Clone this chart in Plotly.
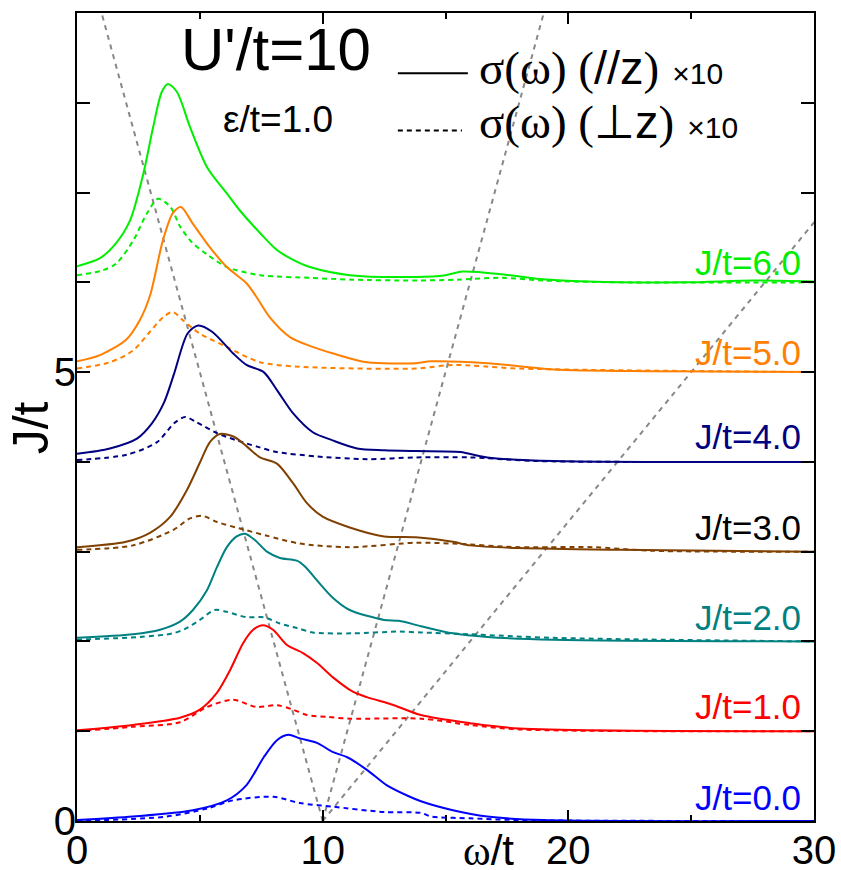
import plotly.graph_objects as go

# ---- data (sigma x10, drawn offset by J/t) ----
J_values = [6.0, 5.0, 4.0, 3.0, 2.0, 1.0, 0.0]
colors = ["#00ee00", "#ff8000", "#000080", "#804000", "#008080", "#ff0000", "#0000ff"]
label_colors = ["#00ee00", "#ff8000", "#000080", "#000000", "#008080", "#ff0000", "#0000ff"]
labels = ["J/t=6.0", "J/t=5.0", "J/t=4.0", "J/t=3.0", "J/t=2.0", "J/t=1.0", "J/t=0.0"]
label_y = [6.22, 5.22, 4.28, 3.27, 2.27, 1.27, 0.26]

w_j6_par = [0, 0.94, 1.6, 2.16, 2.7, 3.1, 3.45, 3.7, 4.07, 4.6, 5.3, 6.1, 6.63, 7.45, 8.14, 8.8, 9.48, 11.1, 13.8, 15.0, 15.7, 17.3, 18.7, 20.8, 24.8, 27.5, 30]
s_j6_par = [0.18, 0.27, 0.44, 0.69, 1.21, 1.73, 2.12, 2.21, 2.12, 1.73, 1.28, 0.99, 0.80, 0.55, 0.36, 0.25, 0.17, 0.08, 0.06, 0.08, 0.12, 0.09, 0.04, 0.01, 0.0, 0.02, 0.01]
w_j6_perp = [0, 1.0, 1.6, 2.3, 2.85, 3.3, 3.8, 4.2, 4.7, 5.3, 6.1, 7.45, 9.5, 11.2, 13.8, 15.5, 17.3, 19, 22, 30]
s_j6_perp = [0.08, 0.13, 0.21, 0.47, 0.77, 0.93, 0.84, 0.62, 0.44, 0.31, 0.17, 0.08, 0.05, 0.03, 0.02, 0.03, 0.05, 0.02, 0.0, 0.0]

w_j5_par = [0, 0.94, 2.0, 2.56, 2.97, 3.5, 3.9, 4.23, 4.7, 5.41, 6.1, 6.9, 7.3, 7.85, 8.67, 9.5, 10.4, 11.8, 13.8, 14.4, 16.7, 19.4, 23.4, 30]
s_j5_par = [0.12, 0.19, 0.36, 0.58, 0.85, 1.47, 1.77, 1.84, 1.66, 1.39, 1.17, 0.99, 0.84, 0.61, 0.39, 0.29, 0.21, 0.11, 0.10, 0.12, 0.10, 0.03, 0.01, 0.0]
w_j5_perp = [0, 1.34, 2.28, 2.97, 3.5, 3.9, 4.3, 5.0, 6.1, 7.45, 9.07, 13.8, 15.3, 18, 30]
s_j5_perp = [0.04, 0.11, 0.24, 0.45, 0.61, 0.67, 0.58, 0.43, 0.28, 0.11, 0.06, 0.04, 0.08, 0.04, 0.0]

w_j4_par = [0, 1.34, 2.44, 3.05, 3.54, 3.95, 4.5, 4.93, 5.5, 6.35, 6.9, 7.6, 8.14, 8.8, 9.6, 10.4, 11.4, 12.5, 13.8, 15.6, 16.7, 19.4, 30]
s_j4_par = [0.09, 0.15, 0.26, 0.43, 0.66, 0.98, 1.43, 1.52, 1.45, 1.21, 1.08, 1.0, 0.80, 0.54, 0.33, 0.24, 0.15, 0.13, 0.12, 0.11, 0.05, 0.01, 0.0]
w_j4_perp = [0, 2.03, 3.26, 3.95, 4.4, 4.88, 5.7, 6.5, 7.33, 8.14, 9.8, 11.8, 13.8, 16, 18.7, 30]
s_j4_perp = [0.02, 0.08, 0.22, 0.43, 0.50, 0.44, 0.32, 0.24, 0.17, 0.11, 0.06, 0.03, 0.05, 0.05, 0.01, 0.0]

w_j3_par = [0, 2.0, 2.97, 3.8, 4.48, 5.0, 5.41, 5.82, 6.39, 6.92, 7.45, 8.14, 8.8, 9.36, 10.0, 11.1, 12.5, 13.8, 15.3, 16, 18, 22.1, 30]
s_j3_par = [0.05, 0.11, 0.21, 0.39, 0.69, 0.99, 1.22, 1.31, 1.28, 1.17, 1.05, 0.98, 0.76, 0.54, 0.39, 0.27, 0.17, 0.16, 0.11, 0.07, 0.04, 0.02, 0.0]
w_j3_perp = [0, 2.28, 3.9, 4.6, 5.1, 5.7, 6.6, 7.7, 9.07, 11.1, 13.8, 15.3, 18, 21, 23.4, 30]
s_j3_perp = [0.02, 0.07, 0.24, 0.37, 0.40, 0.33, 0.26, 0.18, 0.09, 0.05, 0.10, 0.09, 0.05, 0.05, 0.01, 0.0]

w_j2_par = [0, 2.28, 3.38, 4.19, 4.72, 5.29, 5.7, 6.1, 6.5, 6.84, 7.24, 7.73, 8.26, 8.95, 9.3, 9.77, 10.4, 11.1, 12.5, 13.1, 14.0, 15.3, 16.7, 19.4, 30]
s_j2_par = [0.04, 0.08, 0.13, 0.22, 0.35, 0.57, 0.83, 1.05, 1.17, 1.20, 1.13, 1.0, 0.93, 0.90, 0.83, 0.68, 0.49, 0.35, 0.24, 0.23, 0.17, 0.09, 0.05, 0.02, 0.0]
w_j2_perp = [0, 2.56, 3.9, 4.4, 5.0, 5.6, 6.1, 6.9, 7.6, 8.26, 8.95, 9.6, 11.2, 13.1, 14, 16, 19.4, 30]
s_j2_perp = [0.02, 0.05, 0.09, 0.14, 0.24, 0.35, 0.33, 0.27, 0.27, 0.20, 0.15, 0.10, 0.09, 0.11, 0.10, 0.08, 0.04, 0.0]

w_j1_par = [0, 2.28, 4.19, 5.0, 5.7, 6.23, 6.76, 7.17, 7.57, 7.98, 8.55, 9.2, 9.77, 10.42, 11.23, 11.8, 12.9, 14.0, 16, 18, 30]
s_j1_par = [0.01, 0.07, 0.15, 0.24, 0.43, 0.68, 0.98, 1.13, 1.18, 1.13, 0.96, 0.87, 0.76, 0.60, 0.44, 0.38, 0.29, 0.18, 0.09, 0.03, 0.0]
w_j1_perp = [0, 2.28, 4.19, 5.29, 6.35, 7.3, 8.14, 8.8, 9.36, 10.17, 11.1, 14, 16, 18, 30]
s_j1_perp = [0.0, 0.05, 0.10, 0.27, 0.35, 0.27, 0.29, 0.24, 0.18, 0.16, 0.14, 0.14, 0.07, 0.02, 0.0]

w_j0_par = [0, 2.28, 4.72, 6.1, 6.9, 7.6, 8.14, 8.6, 9.07, 9.77, 10.4, 11.0, 11.8, 12.6, 13.55, 14.0, 15.3, 16.7, 19, 30]
s_j0_par = [0.01, 0.05, 0.12, 0.23, 0.40, 0.71, 0.90, 0.96, 0.92, 0.87, 0.77, 0.71, 0.57, 0.40, 0.27, 0.22, 0.12, 0.05, 0.01, 0.0]
w_j0_perp = [0, 3.66, 5.3, 6.35, 8.0, 9.07, 10.4, 12.5, 14, 14.4, 16, 18, 30]
s_j0_perp = [0.0, 0.05, 0.14, 0.23, 0.27, 0.20, 0.16, 0.10, 0.09, 0.05, 0.03, 0.01, 0.0]

par_w = [w_j6_par, w_j5_par, w_j4_par, w_j3_par, w_j2_par, w_j1_par, w_j0_par]
par_s = [s_j6_par, s_j5_par, s_j4_par, s_j3_par, s_j2_par, s_j1_par, s_j0_par]
perp_w = [w_j6_perp, w_j5_perp, w_j4_perp, w_j3_perp, w_j2_perp, w_j1_perp, w_j0_perp]
perp_s = [s_j6_perp, s_j5_perp, s_j4_perp, s_j3_perp, s_j2_perp, s_j1_perp, s_j0_perp]

# guide lines omega = U' + k*J
U_prime = 10.0
guide_slopes = [-1.0, 1.0, 3.0]
guide_J = [0.0, 9.0]

SANS = "Liberation Sans, Arial, sans-serif"
SERIF = "Liberation Serif"

fig = go.Figure()

for k in guide_slopes:
    fig.add_trace(go.Scatter(
        x=[U_prime + k * j for j in guide_J], y=guide_J, mode="lines",
        line=dict(color="#888888", width=2, dash="5px,5px"), showlegend=False, hoverinfo="skip"))

for J, c, w, s in zip(J_values, colors, perp_w, perp_s):
    fig.add_trace(go.Scatter(
        x=w, y=[J + v for v in s], mode="lines",
        line=dict(color=c, width=2, dash="5px,4px", shape="spline", smoothing=0.8),
        showlegend=False, hoverinfo="skip"))
for J, c, w, s in zip(J_values, colors, par_w, par_s):
    fig.add_trace(go.Scatter(
        x=w, y=[J + v for v in s], mode="lines",
        line=dict(color=c, width=2, shape="spline", smoothing=0.8),
        showlegend=False, hoverinfo="skip"))

annotations = []
for lab, lc, ly in zip(labels, label_colors, label_y):
    annotations.append(dict(x=29.55, y=ly, xref="x", yref="y", text=lab, showarrow=False,
                            xanchor="right", yanchor="middle", font=dict(family=SANS, size=35, color=lc)))

annotations.append(dict(x=8.1, y=8.59, xref="x", yref="y", text="U'/t=10", showarrow=False,
                        xanchor="center", yanchor="middle", font=dict(family=SANS, size=60, color="black")))
annotations.append(dict(x=8.18, y=7.81, xref="x", yref="y", text="ε/t=1.0", showarrow=False,
                        xanchor="center", yanchor="middle", font=dict(family=SANS, size=37, color="black")))

leg1 = (f'<span style="font-family:{SERIF}">σ(ω) (</span>//z'
        f'<span style="font-family:{SERIF}">)</span> <span style="font-size:30px">×10</span>')
leg2 = (f'<span style="font-family:{SERIF}">σ(ω) (</span>⊥z'
        f'<span style="font-family:{SERIF}">)</span> <span style="font-size:30px">×10</span>')
annotations.append(dict(x=16.3, y=8.39, xref="x", yref="y", text=leg1, showarrow=False,
                        xanchor="left", yanchor="middle", font=dict(family=SANS, size=47, color="black")))
annotations.append(dict(x=16.3, y=7.79, xref="x", yref="y", text=leg2, showarrow=False,
                        xanchor="left", yanchor="middle", font=dict(family=SANS, size=47, color="black")))

annotations.append(dict(x=-0.0624, y=0.486, xref="paper", yref="paper", text="J/t", showarrow=False,
                        textangle=-90, xanchor="center", yanchor="middle", font=dict(family=SANS, size=50, color="black")))
annotations.append(dict(x=16.73, y=-0.036, xref="x", yref="paper",
                        text=f'<span style="font-family:{SERIF}">ω</span>/t', showarrow=False,
                        xanchor="center", yanchor="middle", font=dict(family=SANS, size=42, color="black")))

shapes = [
    dict(type="line", xref="x", yref="y", x0=13.06, x1=15.91, y0=8.33, y1=8.33, line=dict(color="black", width=2)),
    dict(type="line", xref="x", yref="y", x0=13.06, x1=15.67, y0=7.69, y1=7.69, line=dict(color="black", width=2, dash="5px,4px")),
]

fig.update_layout(
    width=841, height=870,
    margin=dict(l=77, r=27, t=13, b=49),
    plot_bgcolor="white", paper_bgcolor="white",
    annotations=annotations, shapes=shapes,
    font=dict(family=SANS, color="black"),
    xaxis=dict(range=[0, 30], tickvals=[0, 10, 20, 30], ticks="inside", ticklen=11, tickwidth=2,
               tickcolor="black", showline=True, linecolor="black", linewidth=2, mirror="allticks",
               showgrid=False, zeroline=False, tickfont=dict(size=40, family=SANS), automargin=False,
               ticklabelstandoff=-7, ticklabeloverflow="allow",
               minor=dict(tickvals=[5, 15, 25], ticks="inside", ticklen=6, tickwidth=2, tickcolor="black")),
    yaxis=dict(range=[0, 9], tickvals=list(range(10)), ticktext=["0", "", "", "", "", "5", "", "", "", ""],
               ticks="inside", ticklen=13, tickwidth=2, tickcolor="black", showline=True, linecolor="black",
               linewidth=2, mirror="allticks", showgrid=False, zeroline=False,
               tickfont=dict(size=40, family=SANS), automargin=False, ticklabelstandoff=-9),
)

fig.write_html("out.html", config={"displayModeBar": False},
               post_script="document.body.style.margin='0';document.body.style.overflow='hidden';")
